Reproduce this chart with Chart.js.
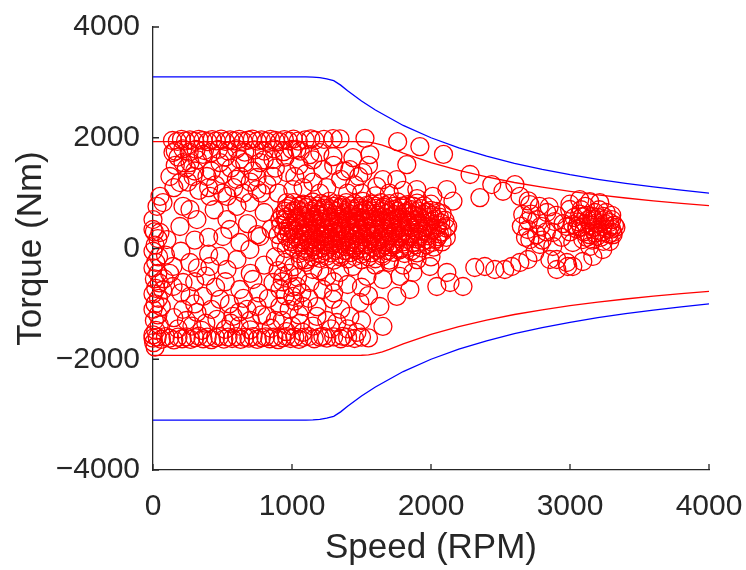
<!DOCTYPE html>
<html><head><meta charset="utf-8">
<script src="https://cdn.jsdelivr.net/npm/chart.js@4.4.1/dist/chart.umd.min.js"></script>
<style>html,body{margin:0;padding:0;background:#fff}canvas{display:block}</style>
</head><body>
<canvas id="c" width="746" height="570"></canvas>
<script>
// ---- Envelope curves (Speed RPM, Torque Nm) ----
const blueSpeed = [0, 1000, 1100, 1150, 1200, 1250, 1300, 1350, 1400, 1500, 1600, 1800, 2000, 2200, 2400, 2600, 2800, 3000, 3200, 3400, 3600, 3800, 4000];
const blueTorqueUp = [3100, 3100, 3098, 3094, 3085, 3065, 3030, 2950, 2850, 2665, 2500, 2222, 2000, 1818, 1667, 1538, 1429, 1333, 1250, 1176, 1111, 1053, 1000];
const blueTorqueLow = [-3100, -3100, -3098, -3094, -3085, -3065, -3030, -2950, -2850, -2665, -2500, -2222, -2000, -1818, -1667, -1538, -1429, -1333, -1250, -1176, -1111, -1053, -1000];
const redSpeed = [0, 1450, 1500, 1550, 1600, 1650, 1700, 1800, 2000, 2200, 2400, 2600, 2800, 3000, 3200, 3400, 3600, 3800, 4000];
const redTorqueUp = [1930, 1930, 1928, 1920, 1900, 1868, 1823, 1722, 1550, 1409, 1292, 1192, 1107, 1033, 969, 912, 861, 816, 775];
const redTorqueLow = [-1930, -1930, -1928, -1920, -1900, -1868, -1823, -1722, -1550, -1409, -1292, -1192, -1107, -1033, -969, -912, -861, -816, -775];

// ---- Operating points [speed, torque] ----
const topRowPts = [[140,1950],[175,1935],[205,1970],[235,1945],[265,1960],[300,1935],[330,1970],[360,1950],[395,1930],[425,1965],[455,1945],[490,1975],[520,1935],[555,1960],[585,1945],[620,1970],[650,1935],[685,1955],[715,1975],[750,1940],[780,1960],[815,1935],[845,1970],[880,1950],[910,1930],[945,1965],[975,1945],[1010,1975],[1045,1940],[1095,1960],[1135,1980],[1165,1955],[1230,1970],[1295,1985],[1345,1980],[1525,1990],[1760,1930],
  [160,1760],[215,1800],[260,1740],[310,1790],[370,1770],[420,1730],[470,1790],[540,1760],[600,1800],[660,1740],[730,1780],[800,1760],[870,1800],[940,1750],[1000,1790],[1060,1760]];

const lowSpeedPts = [[216,1552],[266,1552],[482,1552],[625,1607],[769,1552],[863,1607],[144,1733],
  [122,1300],[194,1191],[288,1300],[388,1300],[503,1336],[625,1300],[748,1282],[863,1300],[963,1372],
  [50,940],[29,760],[72,830],[216,760],[410,940],[532,940],[604,760],[748,1065],[697,830],[963,830],[1006,1065],[266,704],
  [0,523],[0,343],[50,289],[194,397],[316,523],[532,523],[553,343],[913,523],
  [450,1150],[580,1100],[700,1200],[820,1150],[900,1000],[330,1050],[150,1100],[440,700],[800,650],[680,450],[850,350],[750,250],[400,200],[300,150],
  [180,1650],[240,1450],[320,1600],[360,1700],[420,1400],[520,1650],[560,1450],[660,1550],[720,1400],[800,1600],[880,1450],[950,1650],[300,1400],[160,1500],[600,1250],[400,1100],[250,1200],[500,1000],[650,1000],[780,1000],
  [100,162],[503,217],[625,108],[769,217],[697,-18],[482,-144],[410,-325],[532,-379],[604,-199],[625,-740],[719,-560],[863,-614],[935,-505],[144,-325],[266,-253],[144,-686],[216,-614],[266,-866],[360,-866],[482,-920],[216,-1101],[316,-1155],[676,-1101],[748,-1047],[820,-1227],[913,-1047],[1006,-866],[460,-1281],[575,-1227],[913,-740],
  [800,-300],[880,-150],[700,-1300],[620,-1400],[380,-1350],[280,-1400],[550,-1000],[830,-900],
  [180,-1450],[350,-1480],[520,-1460],[700,-1470],[850,-1440],
  [120,-450],[200,-800],[300,-600],[380,-500],[450,-700],[520,-600],[650,-900],[760,-800],[300,-1000],[420,-1100],[620,-1150],[780,-1200],[880,-1300],[150,-1250],[240,-1300],[560,-1350],[400,-100],[320,-350],[200,-50],[700,-450]];

const leftColumnPts = [[10,300],[35,180],[15,60],[0,-50],[40,-150],[20,-250],[0,-350],[35,-450],[10,-550],[45,-620],[20,-720],[0,-820],[40,-900],[15,-1000],[0,-1100],[35,-1200],[10,-1300],[45,-1380],[20,-1480],[0,-1560],[5,-1700],[15,-1780],[60,-1050],[70,-750],[80,-550],[90,-120]];

const bottomRowPts = [[0,-1620],[30,-1600],[60,-1640],[90,-1590],[120,-1620],[150,-1650],[180,-1600],[210,-1630],[240,-1595],[270,-1640],[300,-1610],[330,-1585],[360,-1630],[390,-1600],[420,-1645],[450,-1610],[480,-1590],[510,-1635],[540,-1600],[570,-1625],[600,-1590],[630,-1640],[660,-1605],[690,-1620],[720,-1590],[750,-1640],[780,-1610],[810,-1595],[840,-1630],[870,-1600],[900,-1645],[930,-1610],[960,-1590],[990,-1625],[1020,-1600],[1050,-1640],[1080,-1605],[1120,-1590],[1160,-1630],[1200,-1600],[1250,-1620],[1300,-1595],[1350,-1630],[1400,-1605],[1450,-1625],[1500,-1600],[1550,-1615]];

const midBandPts = [[950,-250],[1010,-330],[1060,-200],[980,-450],[1040,-520],[930,-600],[1000,-700],[1070,-800],[950,-850],[1020,-950],[980,-1100],[1050,-1200],[930,-1300],[1000,-1400],[1060,-1350],[960,-1500],[900,-400],[920,100],[960,0],[900,250],
  [1120,-900],[1180,-1050],[1250,-1300],[1350,-1100],[1300,-800],[1400,-1450],[1150,-1400],[1280,-1450],[1500,-1300],[1550,-850]];

const blobUpperPts = [[1035,1787],[1129,1696],[1200,1733],[1295,1660],[1438,1642],[1560,1696],[1826,1516],[1920,1840],[2090,1700],[1416,1426],[1222,1426],[1654,1245],[1754,1245],[1898,1065],[2013,940],[2114,1065],[1610,1119],[1510,1372],[1050,1500],[1100,1350],[1150,1200],[1250,1100],[1350,1250],[1450,1150],[1300,1500],[1380,1400],[1480,1300],[1550,1500],[1150,1600],[1020,1300],[1080,1100],[1200,1000],[1400,1000],[1500,1000],[1600,950],[1700,1000],[1800,1050],[1900,900],[2000,800]];

const blobLowerPts = [[1539,-505],[1654,-560],[1776,-505],[1870,-433],[1992,-325],[2042,-686],[1848,-740],[1754,-866],[1632,-1047],[1654,-1408],[1488,-975],[1416,-1227],[1294,-920],[1222,-740],[1129,-614],[1035,-686],[1078,-1047],[1179,-1227],[1323,-1336],[1467,-1516],[1078,-1516],[1222,-1588],[1366,-1588],[1150,-379],[1344,-433],[1438,-325],[1250,-505],
  [1600,-300],[1700,-250],[1800,-300],[1900,-200],[2000,-150],[1500,-700],[1400,-650],[1300,-600],[1200,-400],[1100,-250]];

const blobCorePts = [
  [1010,830],[1080,800],[1150,840],[1210,810],[1270,850],[1330,800],[1390,830],[1450,810],[1510,850],[1570,800],[1640,830],[1700,810],[1760,840],[1830,790],[1900,820],
  [960,720],[1040,700],[1100,740],[1170,710],[1230,730],[1290,700],[1350,740],[1410,715],[1470,735],[1530,700],[1600,725],[1660,745],[1730,705],[1790,730],[1860,700],[1930,720],[2000,690],
  [930,610],[1000,640],[1070,600],[1130,630],[1190,615],[1250,640],[1310,605],[1370,630],[1430,610],[1490,640],[1550,620],[1620,600],[1680,635],[1740,610],[1810,640],[1870,605],[1940,625],[2010,600],[2080,630],
  [950,520],[1020,500],[1090,535],[1150,510],[1210,530],[1270,500],[1330,525],[1390,505],[1450,535],[1510,510],[1570,530],[1640,500],[1700,520],[1770,540],[1830,505],[1890,525],[1960,500],[2030,530],[2100,510],
  [920,420],[990,400],[1060,430],[1120,405],[1180,425],[1240,410],[1300,435],[1360,400],[1420,420],[1480,440],[1540,405],[1600,425],[1660,410],[1720,430],[1790,400],[1850,420],[1910,440],[1980,405],[2050,425],[2120,400],
  [940,310],[1010,330],[1080,300],[1140,325],[1200,305],[1260,335],[1320,310],[1380,320],[1440,300],[1500,330],[1560,310],[1620,335],[1690,300],[1750,325],[1810,305],[1880,330],[1940,310],[2010,325],[2080,300],
  [960,220],[1030,200],[1100,235],[1160,210],[1220,225],[1280,200],[1340,230],[1400,215],[1460,235],[1520,205],[1580,220],[1650,200],[1710,230],[1780,210],[1850,225],[1910,205],[1980,230],[2050,215],[2110,200],
  [990,120],[1060,100],[1120,130],[1180,110],[1240,125],[1300,100],[1360,130],[1420,115],[1480,105],[1540,130],[1610,110],[1670,125],[1730,100],[1800,120],[1870,105],[1940,130],[2010,110],[2080,120],
  [1010,20],[1090,0],[1150,30],[1210,10],[1270,25],[1330,0],[1390,30],[1450,15],[1510,0],[1580,25],[1640,10],[1710,30],[1780,0],[1850,20],[1930,10],[2020,25],
  [1050,-90],[1130,-70],[1200,-100],[1280,-80],[1350,-95],[1420,-75],[1500,-100],[1570,-80],[1650,-95],[1730,-70],[1810,-90],[1900,-80],
  [1100,-200],[1200,-180],[1300,-210],[1400,-190],[1500,-200],[1600,-185],[1700,-210]];

const blobFillPts = [
  [990,770],[1050,760],[1120,780],[1180,765],[1240,775],[1300,760],[1360,780],[1420,770],[1480,760],[1540,780],[1600,765],[1670,775],[1730,760],[1800,770],[1870,765],[1950,770],
  [950,670],[1010,680],[1080,665],[1140,675],[1200,660],[1260,680],[1320,670],[1390,660],[1450,675],[1510,665],[1570,680],[1640,670],[1700,660],[1760,675],[1830,665],[1900,680],[1970,660],[2040,670],
  [960,570],[1040,560],[1100,575],[1160,565],[1220,580],[1280,560],[1350,570],[1410,580],[1470,565],[1530,575],[1600,560],[1660,570],[1720,580],[1790,565],[1850,575],[1920,560],[1990,570],[2060,565],
  [960,470],[1030,460],[1090,475],[1150,465],[1210,470],[1270,480],[1340,460],[1400,470],[1460,465],[1520,475],[1580,460],[1650,470],[1710,480],[1780,465],[1840,470],[1910,460],[1990,475],[2070,465],
  [970,370],[1040,360],[1100,375],[1170,365],[1230,370],[1290,380],[1350,360],[1410,370],[1470,365],[1530,375],[1590,360],[1660,370],[1720,380],[1780,365],[1850,370],[1910,360],[1970,375],[2040,365],[2110,370],
  [980,270],[1050,260],[1120,275],[1180,265],[1240,270],[1300,280],[1360,260],[1420,270],[1480,265],[1540,275],[1600,260],[1660,270],[1730,280],[1790,265],[1850,270],[1920,260],[1990,275],[2060,265],
  [1000,170],[1080,160],[1140,175],[1200,165],[1260,170],[1320,180],[1380,160],[1440,170],[1500,165],[1570,175],[1630,160],[1690,170],[1760,180],[1830,165],[1900,170],[1970,160],[2040,175],
  [1030,70],[1100,60],[1170,75],[1230,65],[1290,70],[1350,80],[1410,60],[1470,70],[1540,65],[1600,75],[1670,60],[1740,70],[1810,80],[1890,65],[1970,70],
  [1090,-40],[1170,-30],[1240,-45],[1310,-35],[1380,-40],[1460,-30],[1530,-45],[1610,-35],[1690,-40],[1770,-30],[1860,-45],
  [1150,-150],[1250,-140],[1350,-155],[1450,-145],[1550,-150],[1650,-140]];

const highSpeedPts = [[2281,1336],[2437,1155],[2518,1034],[2604,1155],[2352,920],[2158,854],
  [2640,940],[2700,860],[2780,760],[2711,794],[2660,614],[2696,343],[2711,162],[2783,72],[2761,523],[2833,650],[2890,487],[2876,289],[2876,36],[2905,-199],[2977,-253],[3020,-325],[3092,-235],[3164,-144],[3236,-18],
  [3070,884],[3142,848],[3214,830],[2998,704],[2977,397],[3049,397],[3092,578],[3164,523],[3236,397],[3286,469],[3308,289],[3192,217],[3092,162],[3020,108],[3142,36],[3286,126],
  [3100,300],[3150,420],[3200,330],[3250,450],[3300,350],[3120,600],[3180,650],[3240,580],[3300,520],[3060,480],[3140,250],[3220,200],[3280,260],[3320,420],[3030,560],[3080,700],[3160,150],[3260,650],[3330,380],[3000,300],[2950,450],[2940,200],[2830,300],[2790,400],[2760,250],[2700,500],[2680,200],[2650,400],[2720,620],[2800,150],[2900,600],[2850,750],[3000,800],[3110,760],
  [3050,350],[3110,450],[3170,380],[3230,300],[3290,400],[3130,520],[3190,460],[3250,520],[3070,620],[3210,700],[3270,350],[3180,280],[3120,200],[3240,130],[3310,250],[3020,430],[3160,580],[3300,600],[3080,390],[3200,560],
  [2315,-343],[2387,-325],[2459,-379],[2531,-379],[2581,-325],[2639,-253],[2697,-199],[2747,-72],[2855,-199],[2905,-379],[2984,-325],[2114,-433],[2137,-614],[2230,-686]];

// ---- Axis ticks ----
const xTicks = [0, 1000, 2000, 3000, 4000];
const xTickLabels = ['0', '1000', '2000', '3000', '4000'];
const yTicks = [-4000, -2000, 0, 2000, 4000];
const yTickLabels = ['\u22124000', '\u22122000', '0', '2000', '4000'];

const toXY = (xs, ys) => xs.map((s, i) => ({x: s, y: ys[i]}));
const pairs = pts => pts.map(p => ({x: p[0], y: p[1]}));
const opPoints = [].concat(pairs(topRowPts), pairs(lowSpeedPts), pairs(leftColumnPts), pairs(bottomRowPts),
  pairs(midBandPts), pairs(blobUpperPts), pairs(blobLowerPts), pairs(blobCorePts), pairs(blobFillPts), pairs(highSpeedPts));

const FONT = "'Liberation Sans', Arial, Helvetica, sans-serif";
const TXT = '#262626';

const inwardTicks = {
  id: 'inwardTicks',
  afterDraw(chart) {
    const {ctx, chartArea: a, scales: {x, y}} = chart;
    ctx.save();
    ctx.strokeStyle = TXT; ctx.lineWidth = 1.3;
    ctx.beginPath();
    xTicks.forEach(v => { const px = x.getPixelForValue(v); ctx.moveTo(px, a.bottom); ctx.lineTo(px, a.bottom - 6); });
    yTicks.forEach(v => { const py = y.getPixelForValue(v); ctx.moveTo(a.left, py); ctx.lineTo(a.left + 6, py); });
    ctx.stroke();
    ctx.restore();
  }
};

const lineDs = (data, color) => ({type: 'line', data, borderColor: color, borderWidth: 1.3, pointRadius: 0, fill: false, tension: 0, order: 0});

new Chart(document.getElementById('c'), {
  type: 'scatter',
  data: {
    datasets: [
      lineDs(toXY(blueSpeed, blueTorqueUp), '#0000ff'),
      lineDs(toXY(blueSpeed, blueTorqueLow), '#0000ff'),
      lineDs(toXY(redSpeed, redTorqueUp), '#ff0000'),
      lineDs(toXY(redSpeed, redTorqueLow), '#ff0000'),
      {type: 'scatter', data: opPoints, borderColor: '#ff0000', backgroundColor: 'rgba(0,0,0,0)',
       pointRadius: 9, pointHoverRadius: 9, pointBorderWidth: 1.3, borderWidth: 1.3, pointStyle: 'circle',
       showLine: false, clip: false, order: 1}
    ]
  },
  options: {
    responsive: false, animation: false, devicePixelRatio: 1,
    events: [],
    layout: {padding: {left: 0, top: 27, right: 37, bottom: 0}},
    plugins: {legend: {display: false}, tooltip: {enabled: false}},
    scales: {
      x: {
        type: 'linear', min: 0, max: 4000,
        afterBuildTicks: s => { s.ticks = xTicks.map(v => ({value: v})); },
        afterFit: s => { s.height = 100; s.paddingLeft = 0; s.paddingRight = 0; },
        grid: {display: false, drawTicks: false},
        border: {display: true, color: TXT, width: 1.3},
        ticks: {font: {family: FONT, size: 30}, color: TXT, padding: 19, maxRotation: 0, autoSkip: false,
                callback: (v, i) => xTickLabels[i]},
        title: {display: true, text: 'Speed (RPM)', color: TXT, font: {family: FONT, size: 35, lineHeight: 1.2}, padding: {top: 0, bottom: 1}}
      },
      y: {
        type: 'linear', min: -4000, max: 4000,
        afterBuildTicks: s => { s.ticks = yTicks.map(v => ({value: v})); },
        afterFit: s => { s.width = 153; s.paddingTop = 0; s.paddingBottom = 0; },
        grid: {display: false, drawTicks: false},
        border: {display: true, color: TXT, width: 1.3},
        ticks: {font: {family: FONT, size: 30}, color: TXT, padding: 13, autoSkip: false,
                callback: (v, i) => yTickLabels[i]},
        title: {display: true, text: 'Torque (Nm)', color: TXT, font: {family: FONT, size: 35, lineHeight: 1.2}, padding: {top: 10, bottom: 0}}
      }
    }
  },
  plugins: [inwardTicks]
});
</script>
</body></html>
